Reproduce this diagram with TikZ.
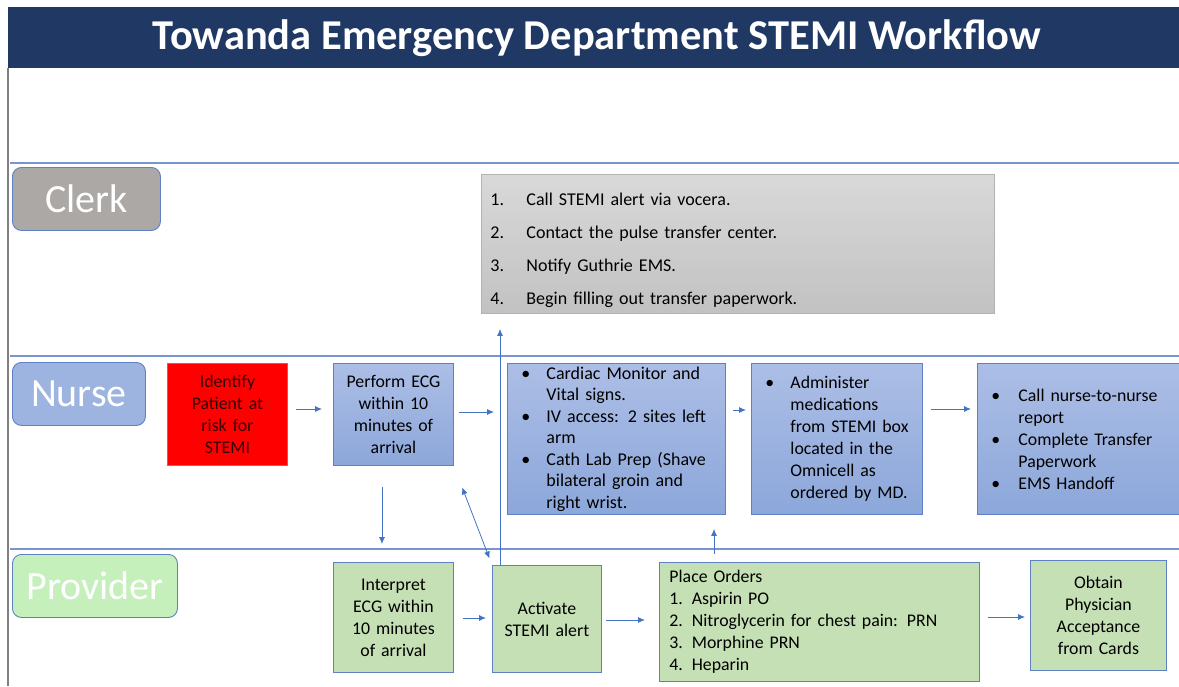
\documentclass[tikz,border=0pt]{standalone}
\usepackage{fontspec}
\usepackage{tikz}
\usetikzlibrary{arrows.meta}
\setmainfont{Carlito}
\hyphenpenalty=10000

\definecolor{titlenavy}{RGB}{31,56,100}
\definecolor{laneline}{RGB}{120,150,205}
\definecolor{boxedge}{RGB}{95,128,196}
\definecolor{flowblue}{RGB}{68,114,196}
\definecolor{nursetop}{RGB}{172,190,230}
\definecolor{nursebot}{RGB}{140,167,218}
\definecolor{provgreen}{RGB}{197,224,180}
\definecolor{clerkgray}{RGB}{171,168,165}
\definecolor{darkred}{RGB}{50,0,0}

% bullet line with hanging indent
\newcommand\bitem[2][34pt]{\noindent\hangindent=#1\hangafter=1\makebox[#1][l]{\hspace{9pt}\textbullet}#2\par}
\newcommand\nitem[2]{\noindent\hangindent=36pt\hangafter=1\makebox[36pt][l]{#1.}#2\par}
\newcommand\brk{\hfil\break}

\begin{document}
\begin{tikzpicture}
            [
                x=1pt, y=-1pt,
                every node/.style={anchor=north west, inner sep=0pt},
                lanelabel/.style={
                    draw=boxedge, line width=0.9pt, rounded corners=9pt,
                    text=white, minimum height=63pt,
                    font=\fontsize{40}{44}\selectfont
                },
                stepbox/.style={
                    draw=boxedge, line width=0.9pt, inner xsep=5pt,
                    font=\fontsize{17.8}{22}\selectfont
                },
                nursebox/.style={stepbox, top color=nursetop, bottom color=nursebot},
                provbox/.style={stepbox, fill=provgreen},
                flow/.style={draw=flowblue, line width=0.8pt,
                    -{Latex[length=7pt,width=6pt]}},
                lane/.style={draw=laneline, line width=1.4pt}
            ]
            \useasboundingbox (0,0) rectangle (1179,686);

            % title bar and frame
            \fill[titlenavy] (8,7) rectangle (1179,68);
            \node[anchor=center, text=white, font=\fontsize{42.5}{46}\selectfont\bfseries]
                (title) at (597,38) {Towanda Emergency Department STEMI Workflow};
            \draw[gray, line width=1.2pt] (8,68) -- (8,686);
            \draw[lane] (10,163) -- (1179,163);
            \draw[lane] (10,356) -- (1179,356);
            \draw[lane] (10,549) -- (1179,549);

            % lane labels
            \node[lanelabel, fill=clerkgray, minimum width=148pt] (clerk) at (12,167) {Clerk};
            \node[lanelabel, fill=nursebot!85!white, minimum width=133pt] (nurse) at (12,362) {Nurse};
            \node[lanelabel, fill=provgreen!80!green!60!white, minimum width=165pt] (provider) at (12,554) {Provider};

            % clerk tasks
            \node[stepbox, draw=gray!60, top color=gray!30, bottom color=gray!48,
                  minimum width=513pt, minimum height=139pt, text width=495pt,
                  inner xsep=9pt, font=\fontsize{18}{33}\selectfont] (calls) at (481,174) {%
                \nitem{1}{\rule{0pt}{25pt}Call STEMI alert via vocera.}
                \nitem{2}{Contact the pulse transfer center.}
                \nitem{3}{Notify Guthrie EMS.}
                \nitem{4}{Begin filling out transfer paperwork.}};

            % nurse lane
            \node[stepbox, fill=red, text=darkred, minimum width=120pt, minimum height=102pt,
                  text width=110pt, align=center] (identify) at (167,363)
                {Identify\\Patient at\\risk for\\STEMI};
            \node[nursebox, minimum width=120pt, minimum height=102pt, text width=110pt,
                  align=center] (ecg) at (333,363)
                {Perform ECG\\within 10\\minutes of\\arrival};
            \node[nursebox, minimum width=218pt, minimum height=151pt, text width=208pt,
                  align=left, font=\fontsize{18}{21.5}\selectfont] (prep) at (507,363) {%
                \bitem{Cardiac Monitor and Vital signs.}
                \bitem{IV access: 2 sites left arm}
                \bitem{Cath Lab Prep (Shave bilateral groin and right wrist.}};
            \node[nursebox, minimum width=171pt, minimum height=151pt, text width=161pt,
                  align=left] (meds) at (751,363) {%
                \bitem[34pt]{Administer\brk medications\brk from STEMI box\brk located in the\brk
                    Omnicell as\brk ordered by MD.}};
            \node[nursebox, minimum width=202pt, minimum height=151pt, text width=192pt,
                  align=left, inner xsep=4pt] (report) at (977,363) {%
                \bitem[36pt]{Call nurse-to-nurse report}
                \bitem[36pt]{Complete Transfer Paperwork}
                \bitem[36pt]{EMS Handoff}};

            % provider lane
            \node[provbox, minimum width=120pt, minimum height=110pt, text width=110pt,
                  align=center] (interp) at (333,562)
                {Interpret\\ECG within\\10 minutes\\of arrival};
            \node[provbox, minimum width=109pt, minimum height=107pt, text width=99pt,
                  align=center] (alert) at (492,565)
                {Activate\\STEMI alert};
            \node[provbox, minimum width=320pt, minimum height=119pt, text width=300pt,
                  inner xsep=10pt, align=left] (orders) at (659,562)
                {Place Orders\\1. Aspirin PO\\2. Nitroglycerin for chest pain: PRN\\3. Morphine PRN\\4. Heparin};
            \node[provbox, minimum width=136pt, minimum height=110pt, text width=126pt,
                  align=center] (accept) at (1030,560)
                {Obtain\\Physician\\Acceptance\\from Cards};

            % connectors
            \coordinate (ecgdown) at (382,0);
            \coordinate (alertup) at (500,0);
            \coordinate (ordersup) at (714,0);
            \draw[flow, shorten <=8pt, shorten >=11pt] (identify.east |- 0,409) -- (ecg.west |- 0,409);
            \draw[flow, shorten <=5pt, shorten >=13pt] (ecg.east |- 0,412) -- (prep.west |- 0,412);
            \draw[flow, shorten <=7pt, shorten >=5pt] (prep.east |- 0,410) -- (meds.west |- 0,410);
            \draw[flow, shorten <=8pt, shorten >=6pt] (meds.east |- 0,409) -- (report.west |- 0,409);
            \draw[flow, shorten <=21pt, shorten >=18pt] (ecg.south -| ecgdown) -- (interp.north -| ecgdown);
            \draw[flow, shorten <=9pt, shorten >=6pt] (interp.east |- 0,618) -- (alert.west |- 0,618);
            \draw[flow, shorten <=4pt, shorten >=14pt] (alert.east |- 0,620) -- (orders.west |- 0,620);
            \draw[flow, shorten <=8pt, shorten >=5pt] (orders.east |- 0,617) -- (accept.west |- 0,617);
            \draw[flow, shorten <=8pt, shorten >=14pt] (orders.north -| ordersup) -- (meds.south -| ordersup);
            \draw[flow, shorten >=15pt] (alert.north -| alertup) -- (calls.south -| alertup);
            \draw[flow, {Latex[length=7pt,width=6pt]}-{Latex[length=7pt,width=6pt]},
                  shorten <=23pt, shorten >=7pt] (ecg.south east) -- (alert.north west);
\end{tikzpicture}
\end{document}
